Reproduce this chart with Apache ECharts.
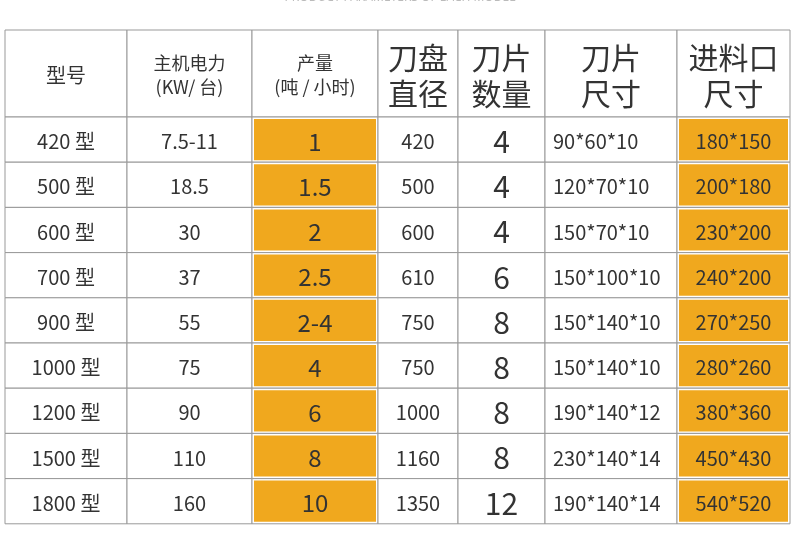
<!DOCTYPE html><html><head><meta charset="utf-8"><script src="https://cdn.jsdelivr.net/npm/echarts@6/dist/echarts.min.js"></script></head><body style="margin:0;background:#fff"><div id="c" style="width:800px;height:539px"></div><script>
const headers=['型号','主机电力\n(KW/ 台)','产量\n(吨 / 小时)','刀盘\n直径','刀片\n数量','刀片\n尺寸','进料口\n尺寸'];
const models=['420 型','500 型','600 型','700 型','900 型','1000 型','1200 型','1500 型','1800 型'];
const power=['7.5-11','18.5','30','37','55','75','90','110','160'];
const output=['1','1.5','2','2.5','2-4','4','6','8','10'];
const diameter=['420','500','600','610','750','750','1000','1160','1350'];
const bladeCount=['4','4','4','6','8','8','8','8','12'];
const bladeSize=['90*60*10','120*70*10','150*70*10','150*100*10','150*140*10','150*140*10','190*140*12','230*140*14','190*140*14'];
const inlet=['180*150','200*180','230*200','240*200','270*250','280*260','380*360','450*430','540*520'];
// layout
const colW=[122,125,126,80,87,132,113];
const headH=87,rowH=45.2;
const headFont=[20,18,18,30,30,30,30];
const bodyFont=[20,20,24,20,30,20,20];
const orangeCols=[2,6];
const cols=[models,power,output,diameter,bladeCount,bladeSize,inlet];
const data=[];
let x=0;
colW.forEach((w,c)=>{
  data.push([x,x+w,0,headH,headers[c],c,1]);
  models.forEach((m,r)=>{const y=headH+r*rowH;data.push([x,x+w,y,y+rowH,cols[c][r],c,0]);});
  x+=w;
});
const total=x, totalH=headH+models.length*rowH;
const ch=echarts.init(document.getElementById('c'));
ch.setOption({
  animation:false,
  graphic:[{type:'text',left:'center',top:-8,style:{text:'PRODUCT PARAMETERS OF EACH MODEL',fill:'#bbb',font:'12px "Noto Sans"'}}],
  grid:{left:5,top:30,width:total,height:totalH},
  xAxis:{type:'value',min:0,max:total,show:false},
  yAxis:{type:'value',min:0,max:totalH,inverse:true,show:false},
  series:[{type:'custom',data:data,renderItem:(p,api)=>{
    const a=api.coord([api.value(0),api.value(2)]),b=api.coord([api.value(1),api.value(3)]);
    const c=api.value(5),h=api.value(6);
    const org=!h&&orangeCols.includes(c);
    const left=c===5?a[0]+8:null;
    return {type:'group',children:[
      {type:'rect',shape:{x:a[0],y:a[1],width:b[0]-a[0],height:b[1]-a[1]},style:{fill:'#fff',stroke:'#999',lineWidth:1}},
      org?{type:'rect',shape:{x:a[0]+2,y:a[1]+2,width:b[0]-a[0]-4,height:b[1]-a[1]-4},style:{fill:'#f0a81e'}}:{type:'rect',shape:{x:0,y:0,width:0,height:0},style:{fill:'none'}},
      {type:'text',style:{text:String(data[p.dataIndex][4]),x:left!==null&&!h?left:(a[0]+b[0])/2,y:(a[1]+b[1])/2+2,align:left!==null&&!h?'left':'center',verticalAlign:'middle',fill:'#333',font:(h?headFont[c]:bodyFont[c])+'px "Noto Sans CJK SC"',lineHeight:h?(headFont[c]>=30?36:24):undefined}}
    ]};
  }}]
});
</script></body></html>
